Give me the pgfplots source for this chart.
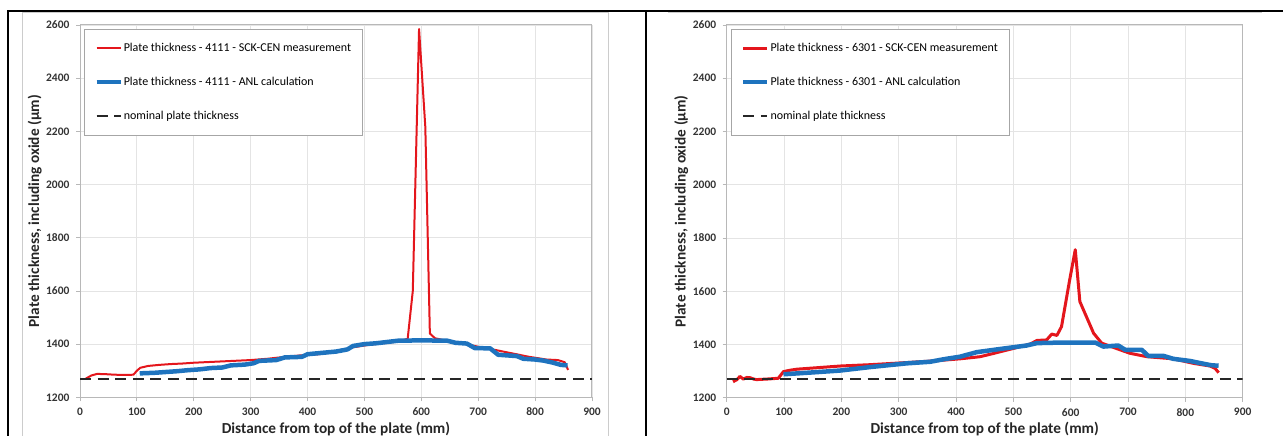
\documentclass[border=0pt]{standalone}
\usepackage{fontspec}
\setmainfont{Carlito}
\usepackage{pgfplots}
\pgfplotsset{compat=1.18}
\definecolor{myred}{RGB}{228,22,28}
\definecolor{myblue}{RGB}{30,115,190}
\definecolor{gridc}{RGB}{228,228,228}
\pgfplotsset{plate/.style={
  scale only axis, xmin=0, xmax=900, ymin=1200, ymax=2600,
  xtick={0,100,...,900}, ytick={1200,1400,...,2600},
  grid=major, major grid style={gridc, line width=0.8pt},
  axis line style={black!28, line width=1pt},
  tick style={black!28, line width=0.8pt}, tick align=outside, major tick length=4pt,
  tick pos=left,
  /pgf/number format/assume math mode=true,
  /pgf/number format/1000 sep={},
  ticklabel style={font=\bfseries\fontsize{11.5}{13}\selectfont, text=black!80},
  xticklabel style={yshift=-3pt},
  yticklabel style={xshift=-3pt},
  label style={font=\bfseries\fontsize{15.3}{17}\selectfont, text=black!85},
  xlabel={Distance from top of the plate (mm)},
  ylabel={Plate thickness, including oxide (µm)},
  xlabel style={at={(axis description cs:0.5,-0.0959)}, anchor=base},
  legend cell align=left,
  legend style={at={(0.008,0.989)}, anchor=north west, draw=black!35,
    font=\fontsize{12}{14}\selectfont, row sep=20pt, inner xsep=10pt, inner ysep=12pt,
    nodes={inner xsep=1pt}},
  legend image code/.code={\draw[##1] (0pt,0pt) -- (24pt,0pt);},
}}
\begin{document}
\begin{tikzpicture}
\useasboundingbox (0pt,0pt) rectangle (1283pt,436pt);
\draw[black!20, line width=0.8pt] (22pt,0pt) -- (22pt,424pt) -- (608pt,424pt) -- (608pt,0pt);
\draw[black!20, line width=0.8pt] (668pt,424pt) -- (1262pt,424pt);
\draw[line width=2pt] (8pt,0pt) -- (8pt,425pt) -- (1283pt,425pt);
\draw[line width=2pt] (646pt,0pt) -- (646pt,425pt);

\begin{axis}[plate, at={(80pt,38.7pt)}, anchor=south west, width=512pt, height=372.3pt,
  ylabel style={at={(axis description cs:-0.080,0.5)}, anchor=base}]
\addplot[myred, line width=2pt, line join=round] coordinates {
(10,1270) (20,1282) (30,1288) (45,1287) (60,1285) (80,1284) (94,1285) (100,1300) (106,1311)
(120,1318) (140,1322) (160,1325) (180,1327) (200,1330) (250,1335) (300,1340) (330,1345)
(360,1352) (390,1358) (420,1362) (450,1372) (480,1388) (510,1398) (540,1405) (560,1410)
(576,1420) (585,1600) (596,2585) (607,2217) (615,1440) (624,1422) (650,1410) (680,1400)
(700,1390) (730,1378) (760,1365) (790,1352) (820,1342) (840,1340) (852,1332) (858,1303)};
\addlegendentry{Plate thickness - 4111 - SCK-CEN measurement}
\addplot[myblue, line width=4.5pt, line join=round] coordinates {
(105,1290) (130,1292) (150,1295) (170,1298) (190,1302) (210,1305) (230,1310) (250,1312)
(265,1320) (290,1323) (305,1328) (315,1337) (345,1340) (360,1350) (390,1352) (400,1362)
(430,1368) (450,1372) (470,1380) (480,1393) (500,1400) (520,1403) (540,1408) (560,1413)
(600,1414) (645,1413) (660,1405) (680,1402) (694,1385) (721,1384) (735,1360) (768,1355)
(779,1345) (800,1342) (815,1338) (832,1330) (845,1322) (857,1320)};
\addlegendentry{Plate thickness - 4111 - ANL calculation}
\addplot[black!85, line width=2pt, dash pattern=on 11pt off 6.6pt] coordinates {(0,1270) (900,1270)};
\addlegendentry{nominal plate thickness}
\end{axis}

\begin{axis}[plate, at={(726.7pt,38.3pt)}, anchor=south west, width=516pt, height=372.7pt,
  ylabel style={at={(axis description cs:-0.0795,0.5)}, anchor=base}]
\addplot[myred, line width=3pt, line join=round] coordinates {
(11,1260) (18,1268) (23,1280) (29,1270) (35,1276) (41,1275) (47,1270) (52,1268) (70,1270)
(90,1273) (99,1298) (110,1303) (122,1307) (160,1313) (198,1319) (250,1324) (314,1332)
(360,1338) (407,1346) (442,1354) (465,1366) (500,1385) (530,1402) (541,1415) (558,1417)
(567,1439) (576,1434) (584,1467) (598,1640) (608,1756) (616,1561) (640,1442) (654,1405)
(686,1380) (703,1367) (733,1354) (779,1346) (814,1329) (843,1319) (852,1310) (858,1294)};
\addlegendentry{Plate thickness - 6301 - SCK-CEN measurement}
\addplot[myblue, line width=4.5pt, line join=round] coordinates {
(99,1288) (150,1295) (198,1302) (250,1315) (314,1329) (355,1335) (380,1345) (407,1354)
(436,1371) (477,1383) (523,1396) (541,1405) (581,1407) (643,1407) (657,1392) (683,1396)
(695,1380) (724,1380) (735,1357) (762,1357) (779,1346) (808,1338) (826,1330) (845,1322)
(858,1320)};
\addlegendentry{Plate thickness - 6301 - ANL calculation}
\addplot[black!85, line width=2pt, dash pattern=on 11pt off 6.6pt] coordinates {(0,1270) (900,1270)};
\addlegendentry{nominal plate thickness}
\end{axis}
\end{tikzpicture}
\end{document}
